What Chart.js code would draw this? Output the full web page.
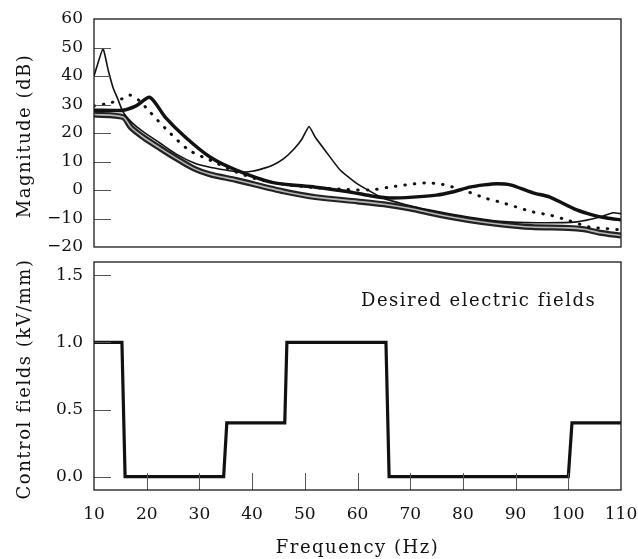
<!DOCTYPE html>
<html>
<head>
<meta charset="utf-8">
<script src="https://cdn.jsdelivr.net/npm/chart.js@4"></script>
<style>
html, body { margin: 0; padding: 0; background: #fff; }
canvas { position: absolute; left: 0; }
#top { top: 0; }
#bottom { top: 256px; }
</style>
</head>
<body>
<canvas id="top" width="638" height="256" style="width:638px;height:256px"></canvas>
<canvas id="bottom" width="638" height="303" style="width:638px;height:303px"></canvas>
<script>
// top panel: magnitude curves (dB)
const freqA = [10, 11.7, 12.7, 13.6, 14.5, 15.5, 17, 19.3, 22.5, 25.7, 29, 32, 35, 37.5, 40, 42, 44, 46, 48, 49.5, 50.8, 52, 54, 56.7, 59.5, 61, 64.8, 70, 75, 81, 87, 94, 101.6, 106, 108.5, 110];
const magA = [40, 49.5, 42, 36, 32, 27.4, 24, 20.5, 16.5, 12.5, 9.5, 8, 7, 6.3, 6.6, 7.5, 8.8, 11, 14.5, 18, 22.3, 18.5, 13.5, 7, 2.8, 1, -2.8, -5.5, -7.5, -9.5, -11, -11.5, -11.2, -9.5, -8, -8.3];

const freqB = [10, 15.5, 18, 20.6, 23.5, 27.3, 32, 37, 44, 52, 58, 62.4, 66, 70.5, 75, 78, 81.3, 84, 86.5, 89, 93.3, 96.5, 101.6, 104.7, 107.3, 110];
const magB = [28, 28, 29.5, 32.5, 25.6, 18.6, 11.6, 7, 2.6, 1, -0.5, -2, -2.8, -2.5, -1.8, -0.7, 1, 1.8, 2.2, 1.8, -1, -2.5, -7, -8.8, -9.8, -10.5];

const freqC = [10, 13, 15.3, 16.8, 18.5, 20.6, 23.5, 28, 32, 37, 41, 46, 52, 58, 62.4, 66, 70, 73.2, 76, 80, 84.5, 87, 93.3, 96.5, 99.7, 104, 107, 110];
const magC = [29.5, 30.5, 32, 33.3, 31.5, 27.4, 21.7, 14, 10.5, 6.3, 3.8, 2, 0.8, 0.2, 0, 1, 2, 2.5, 2, 0, -3, -4.2, -7.7, -8.8, -10.5, -13, -13.5, -14];

const freqD = [10, 15.5, 17, 19.3, 22.5, 25.7, 29, 32, 37, 46, 52, 60, 65, 70, 75, 81, 87, 93, 100, 103, 106, 110];
const magD = [26.5, 25.6, 22, 18.6, 14.7, 11, 7.5, 5.5, 3.5, -0.5, -2.5, -4, -5, -6.5, -8.5, -10.5, -12, -13, -13.3, -13.8, -15, -16];

// bottom panel: desired control field (kV/mm)
const freqCtrl = [10, 15.3, 15.9, 34.6, 35.2, 46.2, 46.6, 65.4, 66, 100, 100.7, 110];
const fieldCtrl = [1, 1, 0, 0, 0.4, 0.4, 1, 1, 0, 0, 0.4, 0.4];

const magTicks = [-20, -10, 0, 10, 20, 30, 40, 50, 60];
const fieldTicks = [0, 0.5, 1.0, 1.5];
const freqTicks = [10, 20, 30, 40, 50, 60, 70, 80, 90, 100, 110];

const serif = { family: "'DejaVu Serif', serif", size: 17 };
const titleFont = "18px 'DejaVu Serif', serif";
const ink = '#111';

function pts(xs, ys) {
  return xs.map((x, i) => ({ x: x, y: ys[i] }));
}

function setTicks(list) {
  return function(scale) {
    scale.ticks = list.map(v => ({ value: v }));
  };
}

function text(ctx, str, x, y, align, rot) {
  ctx.save();
  ctx.translate(x, y);
  if (rot) ctx.rotate(rot);
  ctx.font = titleFont;
  ctx.letterSpacing = '1.5px';
  ctx.fillStyle = ink;
  ctx.textAlign = align;
  ctx.textBaseline = 'middle';
  ctx.fillText(str, 0, 0);
  ctx.restore();
}

// frame box + ticks drawn inwards, plus the axis titles
const frameAndTicks = {
  id: 'frameAndTicks',
  afterDatasetsDraw(chart, args, opts) {
    const { ctx, chartArea: a, scales } = chart;
    ctx.save();
    ctx.strokeStyle = '#555';
    ctx.lineWidth = 1;
    ctx.beginPath();
    scales.y.ticks.forEach(t => {
      const py = Math.round(scales.y.getPixelForValue(t.value)) + 0.5;
      if (py <= a.top + 2 || py >= a.bottom - 2) return;
      ctx.moveTo(a.left, py);
      ctx.lineTo(a.left + 17, py);
    });
    if (opts.xTicks) {
      scales.x.ticks.forEach(t => {
        const px = Math.round(scales.x.getPixelForValue(t.value)) + 0.5;
        if (px <= a.left + 2 || px >= a.right - 2) return;
        ctx.moveTo(px, a.bottom);
        ctx.lineTo(px, a.bottom - 17);
      });
    }
    ctx.stroke();
    ctx.strokeStyle = '#1a1a1a';
    ctx.lineWidth = 1.3;
    ctx.strokeRect(a.left, a.top, a.right - a.left, a.bottom - a.top);
    ctx.restore();

    text(ctx, opts.yTitle, 25, (a.top + a.bottom) / 2 + 3, 'center', -Math.PI / 2);
    if (opts.xTitle) text(ctx, opts.xTitle, (a.left + a.right) / 2, a.bottom + 58, 'center', 0);
    if (opts.label) {
      text(ctx, opts.label.text, scales.x.getPixelForValue(opts.label.x), scales.y.getPixelForValue(opts.label.y), 'right', 0);
    }
  }
};

function yAxis(min, max, ticks, fmt) {
  return {
    type: 'linear',
    min: min,
    max: max,
    afterBuildTicks: setTicks(ticks),
    afterFit: function(scale) {
      scale.width = 94;
      scale.paddingTop = 0;
      scale.paddingBottom = 0;
    },
    grid: { display: false, drawTicks: false },
    border: { display: false },
    ticks: { font: serif, color: ink, padding: 11, callback: fmt }
  };
}

new Chart(document.getElementById('top'), {
  type: 'line',
  data: {
    datasets: [
      { data: pts(freqB, magB), borderColor: '#111', borderWidth: 3.5, tension: 0.25, order: 1 },
      { data: pts(freqC, magC), borderColor: '#111', borderWidth: 3, borderDash: [0.5, 9], borderCapStyle: 'round', tension: 0.25, order: 2 },
      { data: pts(freqA, magA), borderColor: '#111', borderWidth: 1.6, tension: 0.15, order: 3 },
      { data: pts(freqD, magD), borderColor: '#b8b8b8', borderWidth: 1.6, tension: 0.25, order: 4 },
      { data: pts(freqD, magD), borderColor: '#222', borderWidth: 6, tension: 0.25, order: 5 }
    ]
  },
  options: {
    responsive: false,
    animation: false,
    layout: { padding: { left: 0, right: 17, top: 19, bottom: 9 } },
    elements: { point: { radius: 0 }, line: { fill: false } },
    plugins: {
      legend: { display: false },
      tooltip: { enabled: false },
      frameAndTicks: { xTicks: false, yTitle: 'Magnitude (dB)' }
    },
    scales: {
      x: { type: 'linear', min: 10, max: 110, display: false },
      y: yAxis(-20, 60, magTicks, v => String(v).replace('-', '\u2212'))
    }
  },
  plugins: [frameAndTicks]
});

new Chart(document.getElementById('bottom'), {
  type: 'line',
  data: {
    datasets: [
      { data: pts(freqCtrl, fieldCtrl), borderColor: '#111', borderWidth: 3.2, tension: 0 }
    ]
  },
  options: {
    responsive: false,
    animation: false,
    layout: { padding: { left: 0, right: 17, top: 6, bottom: 0 } },
    elements: { point: { radius: 0 }, line: { fill: false } },
    plugins: {
      legend: { display: false },
      tooltip: { enabled: false },
      frameAndTicks: {
        xTicks: true,
        yTitle: 'Control fields (kV/mm)',
        xTitle: 'Frequency (Hz)',
        label: { text: 'Desired electric fields', x: 105.3, y: 1.31 }
      }
    },
    scales: {
      x: {
        type: 'linear',
        min: 10,
        max: 110,
        afterBuildTicks: setTicks(freqTicks),
        afterFit: function(scale) {
          scale.height = 69;
          scale.paddingLeft = 0;
          scale.paddingRight = 0;
        },
        grid: { display: false, drawTicks: false },
        border: { display: false },
        ticks: { font: serif, color: ink, padding: 14, maxRotation: 0 }
      },
      y: yAxis(-0.1, 1.6, fieldTicks, v => v.toFixed(1))
    }
  },
  plugins: [frameAndTicks]
});
</script>
</body>
</html>
